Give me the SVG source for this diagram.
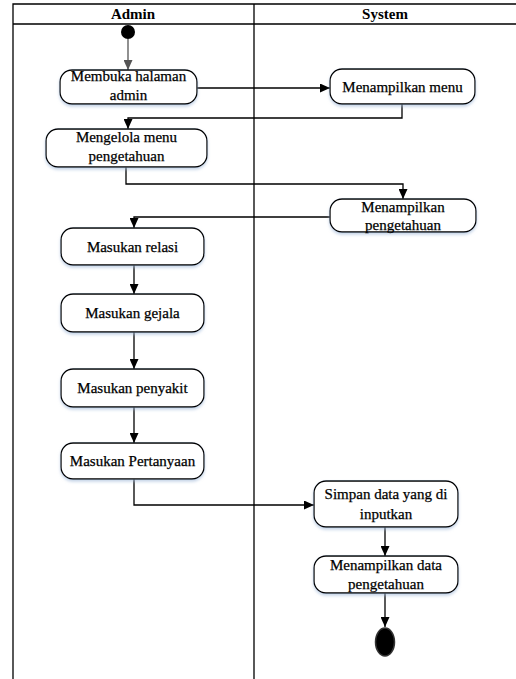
<svg xmlns="http://www.w3.org/2000/svg" width="516" height="679" viewBox="0 0 516 679">
  <defs>
    <marker id="arrow" markerUnits="userSpaceOnUse" markerWidth="10" markerHeight="9" refX="10" refY="4.5" orient="auto">
      <path d="M0,0 L10,4.5 L0,9 z" fill="#000"/>
    </marker>
    <marker id="arrowGray" markerUnits="userSpaceOnUse" markerWidth="10" markerHeight="9" refX="10" refY="4.5" orient="auto">
      <path d="M0,0 L10,4.5 L0,9 z" fill="#555"/>
    </marker>
    <filter id="shadow" x="-10%" y="-20%" width="120%" height="150%">
      <feDropShadow dx="0" dy="2" stdDeviation="1.5" flood-color="#9fb8d8" flood-opacity="0.6"/>
    </filter>
  </defs>
  <style>
    .lane { fill: none; stroke: #000; stroke-width: 1.3; }
    .act { fill: #fff; stroke: #000; stroke-width: 1.3; filter: url(#shadow); }
    .lbl { font-family: "Liberation Serif", "Times New Roman", serif; font-size: 15px; fill: #000; stroke: #000; stroke-width: 0.25; text-anchor: middle; }
    .head { font-family: "Liberation Serif", "Times New Roman", serif; font-size: 15px; font-weight: bold; fill: #000; text-anchor: middle; }
    .flow { fill: none; stroke: #000; stroke-width: 1.3; marker-end: url(#arrow); }
  </style>
  <rect width="516" height="679" fill="#fff"/>

  <!-- swimlane frame -->
  <g id="lanes">
    <path class="lane" d="M13,680 V4 H520 M13,24 H520 M254,4 V680"/>
    <text class="head" x="133" y="19">Admin</text>
    <text class="head" x="385" y="19">System</text>
  </g>

  <!-- connectors -->
  <g id="connectors">
    <path d="M128,39 V70" fill="none" stroke="#555" stroke-width="1.3" marker-end="url(#arrowGray)"/>
    <path class="flow" d="M197,88 H330"/>
    <path class="flow" d="M402,104 V118 H128 V129"/>
    <path class="flow" d="M126,167 V184 H403 V199"/>
    <path class="flow" d="M330,217 H134 V228"/>
    <path class="flow" d="M134,265 V294"/>
    <path class="flow" d="M134,332 V369"/>
    <path class="flow" d="M134,407 V443"/>
    <path class="flow" d="M134,479 V505 H314"/>
    <path class="flow" d="M385,527 V556"/>
    <path class="flow" d="M385,593 V627"/>
  </g>

  <g id="start">
    <circle cx="128" cy="32" r="7" fill="#000"/>
  </g>

  <g id="membuka-halaman-admin">
    <rect class="act" x="60" y="70" width="137" height="34" rx="12"/>
    <text class="lbl" x="128.5" y="81">Membuka halaman</text>
    <text class="lbl" x="128.5" y="100">admin</text>
  </g>

  <g id="menampilkan-menu">
    <rect class="act" x="330" y="69" width="145" height="35" rx="12"/>
    <text class="lbl" x="402.5" y="92">Menampilkan menu</text>
  </g>

  <g id="mengelola-menu">
    <rect class="act" x="46" y="129" width="161" height="38" rx="12"/>
    <text class="lbl" x="126.5" y="142">Mengelola menu</text>
    <text class="lbl" x="126.5" y="161">pengetahuan</text>
  </g>

  <g id="menampilkan-pengetahuan">
    <rect class="act" x="330" y="199" width="146" height="33" rx="12"/>
    <text class="lbl" x="403" y="212">Menampilkan</text>
    <text class="lbl" x="403" y="230">pengetahuan</text>
  </g>

  <g id="masukan-relasi">
    <rect class="act" x="61" y="228" width="143" height="37" rx="12"/>
    <text class="lbl" x="132.5" y="252">Masukan relasi</text>
  </g>

  <g id="masukan-gejala">
    <rect class="act" x="61" y="294" width="143" height="38" rx="12"/>
    <text class="lbl" x="132.5" y="318">Masukan gejala</text>
  </g>

  <g id="masukan-penyakit">
    <rect class="act" x="61" y="369" width="143" height="38" rx="12"/>
    <text class="lbl" x="132.5" y="393">Masukan penyakit</text>
  </g>

  <g id="masukan-pertanyaan">
    <rect class="act" x="61" y="443" width="143" height="36" rx="12"/>
    <text class="lbl" x="132.5" y="466">Masukan Pertanyaan</text>
  </g>

  <g id="simpan-data">
    <rect class="act" x="314" y="481" width="144" height="46" rx="12"/>
    <text class="lbl" x="386" y="499">Simpan data yang di</text>
    <text class="lbl" x="386" y="519">inputkan</text>
  </g>

  <g id="menampilkan-data-pengetahuan">
    <rect class="act" x="314" y="556" width="144" height="37" rx="12"/>
    <text class="lbl" x="386" y="570">Menampilkan data</text>
    <text class="lbl" x="386" y="589">pengetahuan</text>
  </g>

  <g id="end">
    <ellipse cx="385" cy="642" rx="9.5" ry="14" fill="#000" stroke="#333" stroke-width="1.5"/>
  </g>
</svg>
